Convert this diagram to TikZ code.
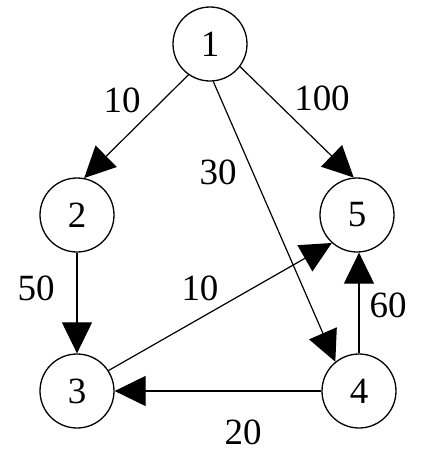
\documentclass[tikz,border=0pt]{standalone}
\usepackage{fontspec}
\setmainfont{Liberation Serif}
\usetikzlibrary{arrows.meta, positioning}

\begin{document}
\begin{tikzpicture}[
  x=1pt, y=-1pt,
  every node/.style={font=\fontsize{37}{40}\selectfont},
  vertex/.style={
    draw=black, circle, line width=1.3pt,
    minimum size=74pt, inner sep=0pt
  },
  edge/.style={-{Triangle[length=31pt, width=30pt]}, line width=1.2pt},
  weight/.style={inner sep=1pt}
]
  \useasboundingbox (0,0) rectangle (436,459);

  % Knoten
  \node[vertex] (n1) at (210, 44) {1};
  \node[vertex] (n2) at (77, 215) {2};
  \node[vertex] (n5) at (357, 215) {5};
  \node[vertex] (n3) at (77, 391) {3};
  \node[vertex] (n4) at (359, 391) {4};

  % Kanten
  \draw[edge] (n1.235) -- (n2.79);
  \draw[edge] (n1.-37) -- (n5.95);
  \draw[edge] (n1.-85) -- (n4.129);
  \draw[edge] (n2.south) -- (n3.north);
  \draw[edge] (n3.33) -- (n5.228);
  \draw[edge] (n4.west) -- (n3.east);
  \draw[edge] (n4.north) -- (n4.north |- n5.south);

  % Gewichte
  \node[weight] (w12) at (122, 100) {10};
  \node[weight] (w15) at (322, 98) {100};
  \node[weight] (w14) at (218, 172) {30};
  \node[weight] (w23) at (36, 288) {50};
  \node[weight] (w35) at (200, 288) {10};
  \node[weight] (w45) at (388, 305) {60};
  \node[weight] (w43) at (243, 432) {20};

\end{tikzpicture}
\end{document}
